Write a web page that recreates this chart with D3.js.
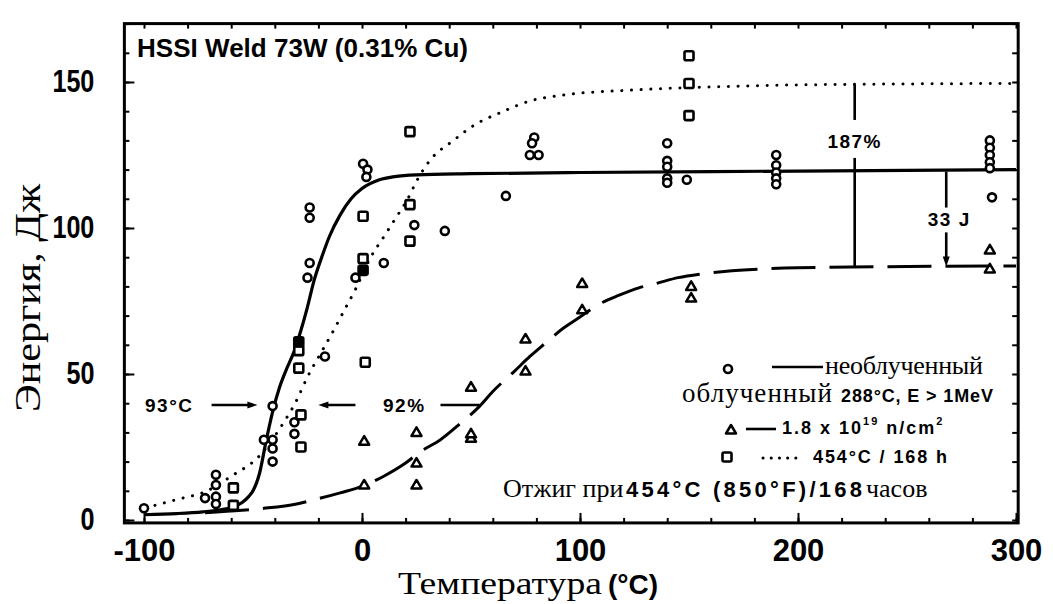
<!DOCTYPE html>
<html>
<head>
<meta charset="utf-8">
<script src="https://cdn.jsdelivr.net/npm/d3@7/dist/d3.min.js"></script>
<style>
body{margin:0;background:#fff}
svg{display:block}
</style>
</head>
<body>
<svg id="chart" width="1053" height="604"></svg>
<script>
// data: [temperature C, energy J]
const unirrPoints = [[-100,4],[-72,7.5],[-67,8],[-67,5.5],[-67,12],[-67,15.5],[-45,27.5],[-41,27.5],[-41,24.5],[-41,20],
  [-41,39],[-31,33.5],[-31,29.5],[-24,107],[-24,103.5],[-24,88],[-25,83],[-17,56],[-3,83],[0.5,122],[2.5,120],[2,117.5],
  [10,88],[24,101],[38,99],[66,111],[79,131],[78,129],[77,125],[81,125],[140,129],[140,123],[140,121],[140,117],[140,115.5],
  [149,116.5],[190,125],[190,121.5],[190,119],[190,117],[190,115],[288,130],[288,127.5],[288,125],[288,122.5],[288,120.5],[289,110.5]];
const irrPoints = [[1,27],[1,12],[25,30],[25,19.5],[25,12],[50,45.5],[50,28],[50,29.5],[75,62],[75,51],[101,81],[101,72],
  [151,80],[151,76],[288,92.5],[288,86]];
const annealPoints = [[-59,11],[-59,5],[-28,36],[-28,25],[-29,52],[-29,58],[0.5,89.5],[0.5,104],[22,133],[22,108],[22,95.5],
  [1.5,54],[150,159],[150,149.5],[150,138.5]];
const annealFilled = [[-29,61],[0.5,85.5]];

// fitted curves
const unirrCurve = [[-100,1.8],[-85,2.2],[-73,2.8],[-65,3.5],[-60,4.2],[-55,6],[-52,8],[-50,10],[-47,16],[-44,27],[-41,37],
  [-38,45],[-35,51],[-31,58],[-28,65],[-25,73],[-22,82],[-18,91],[-15,97],[-10,104.5],[-5,110],[0,113.5],[8,116.5],[15,117.6],
  [25,118.2],[50,118.6],[100,119],[200,119.5],[300,120]];
const irrCurve = [[-72,2.5],[-55,3.3],[-45,4],[-30,5.5],[-20,7.3],[-10,9.3],[0,11.5],[10,15],[20,19.5],[27,23.5],[36,27.5],
  [45,33],[54,39],[60,44],[70,51],[77,56],[84,60.5],[92,65.5],[100,69.5],[108,73.6],[118,77],[127,79.5],[135,81],[145,83],
  [155,84.2],[165,85],[175,85.6],[200,86.4],[250,86.8],[300,87]];
const annealCurve = [[-95,5],[-85,7],[-71,10],[-60,15],[-47,22],[-38,31],[-30,41],[-25,49],[-19,57],[-13,65],[-8,72],[-3,79],
  [4,90],[10,97],[16,104],[21,110],[25,116],[31,123],[42,130],[51,135],[65,140],[77,143.5],[92,145.5],[123,147.2],[160,148.3],
  [200,149],[300,149.5]];

const xMajor = [-100,0,100,200,300];
const xMinor = d3.range(-100,301,20);
const yMajor = [0,50,100,150];
const yMinor = d3.range(0,171,10);

const svg = d3.select("#chart");
const x = d3.scaleLinear().domain([-100,300]).range([144,1016]);
const y = d3.scaleLinear().domain([0,150]).range([520,82]);

const L = x(-109), R = x(301), T = y(170), B = y(-1);
const sansBold = "'Liberation Sans', Arial, sans-serif";
const serif = "'Liberation Serif', 'Times New Roman', serif";

// ticks
function styleAxis(g){
  g.select(".domain").remove();
  g.selectAll(".tick line").attr("stroke","#000").attr("stroke-width",2);
  g.selectAll(".tick text").attr("font-family",sansBold).attr("font-weight","bold").attr("font-size",31).attr("fill","#000");
}
svg.append("g").attr("transform",`translate(0,${B})`)
  .call(d3.axisBottom(x).tickValues(xMinor).tickSize(-5).tickFormat("")).call(styleAxis);
svg.append("g").attr("transform",`translate(0,${B})`)
  .call(d3.axisBottom(x).tickValues(xMajor).tickSize(-10).tickPadding(16).tickFormat(d=>String(d))).call(styleAxis);
svg.append("g").attr("transform",`translate(0,${T})`)
  .call(d3.axisTop(x).tickValues(xMinor).tickSize(-5).tickFormat("")).call(styleAxis);
svg.append("g").attr("transform",`translate(${L},0)`)
  .call(d3.axisLeft(y).tickValues(yMinor).tickSize(-5).tickFormat("")).call(styleAxis);
svg.append("g").attr("transform",`translate(${L},0)`)
  .call(d3.axisLeft(y).tickValues(yMajor).tickSize(-10).tickPadding(30).tickFormat(d=>d)).call(styleAxis)
  .selectAll(".tick text").attr("textLength",d=>String(d).length*14).attr("lengthAdjust","spacingAndGlyphs");
svg.append("g").attr("transform",`translate(${R},0)`)
  .call(d3.axisRight(y).tickValues(yMinor).tickSize(-6).tickFormat("")).call(styleAxis);

svg.append("rect").attr("x",L).attr("y",T).attr("width",R-L).attr("height",B-T)
  .attr("fill","none").attr("stroke","#000").attr("stroke-width",3);

// axis titles
svg.append("text").attr("x",398).attr("y",594).attr("font-family",serif).attr("font-size",31)
  .attr("textLength",204).attr("lengthAdjust","spacingAndGlyphs").attr("fill","#000").text("Температура");
svg.append("text").attr("x",608).attr("y",594).attr("font-family",sansBold).attr("font-weight","bold").attr("font-size",28)
  .attr("fill","#000").text("(°C)");
svg.append("text").attr("transform","translate(40,298) rotate(-90)").attr("text-anchor","middle")
  .attr("font-family",serif).attr("font-size",36).attr("textLength",228).attr("lengthAdjust","spacingAndGlyphs")
  .attr("fill","#000").text("Энергия, Дж");

// title
svg.append("text").attr("x",137).attr("y",57).attr("font-family",sansBold).attr("font-weight","bold")
  .attr("font-size",26).attr("textLength",331).attr("lengthAdjust","spacing").attr("fill","#000")
  .text("HSSI Weld 73W (0.31% Cu)");

// curves
const line = d3.line().x(d=>x(d[0])).y(d=>y(d[1])).curve(d3.curveMonotoneX);
svg.append("path").attr("d",line(annealCurve)).attr("fill","none").attr("stroke","#000")
  .attr("stroke-width",3).attr("stroke-linecap","round").attr("stroke-dasharray","0.1 9.6");
svg.append("path").attr("d",line(irrCurve)).attr("fill","none").attr("stroke","#000")
  .attr("stroke-width",3).attr("stroke-dasharray","44 14");
svg.append("path").attr("d",line(unirrCurve)).attr("fill","none").attr("stroke","#000").attr("stroke-width",3.2);

// markers
function circ(g,cx,cy){ g.append("circle").attr("cx",cx).attr("cy",cy).attr("r",4)
  .attr("fill","#fff").attr("stroke","#000").attr("stroke-width",2.6); }
function sq(g,cx,cy,filled){ g.append("rect").attr("x",cx-4.5).attr("y",cy-4.5).attr("width",9).attr("height",9).attr("rx",1.5)
  .attr("fill",filled?"#000":"#fff").attr("stroke","#000").attr("stroke-width",2.6); }
function tri(g,cx,cy){ g.append("path").attr("d",`M${cx},${cy-5}L${cx+5},${cy+3.5}L${cx-5},${cy+3.5}Z`)
  .attr("fill","#fff").attr("stroke","#000").attr("stroke-width",2.5).attr("stroke-linejoin","round"); }

const gm = svg.append("g");
unirrPoints.forEach(d=>circ(gm,x(d[0]),y(d[1])));
annealPoints.forEach(d=>sq(gm,x(d[0]),y(d[1]),false));
annealFilled.forEach(d=>sq(gm,x(d[0]),y(d[1]),true));
irrPoints.forEach(d=>tri(gm,x(d[0]),y(d[1])));

// annotations
function seg(x1,y1,x2,y2){ svg.append("line").attr("x1",x1).attr("y1",y1).attr("x2",x2).attr("y2",y2)
  .attr("stroke","#000").attr("stroke-width",2.6); }
function head(tx,ty,dir){
  let p;
  if(dir==="r") p=`M${tx},${ty}L${tx-10},${ty-3.5}L${tx-10},${ty+3.5}Z`;
  else if(dir==="l") p=`M${tx},${ty}L${tx+10},${ty-3.5}L${tx+10},${ty+3.5}Z`;
  else p=`M${tx},${ty}L${tx-3.5},${ty-10}L${tx+3.5},${ty-10}Z`;
  svg.append("path").attr("d",p).attr("fill","#000");
}
function label(tx,ty,s,anchor){ svg.append("text").attr("x",tx).attr("y",ty).attr("text-anchor",anchor||"start")
  .attr("font-family",sansBold).attr("font-weight","bold").attr("font-size",19).attr("letter-spacing",1.5)
  .attr("fill","#000").text(s); }

const eShift = 39.4;
label(145,412,"93°C");
seg(x(-69),y(eShift),x(-50),y(eShift)); head(x(-48),y(eShift),"r");
seg(x(-18),y(eShift),x(-3),y(eShift)); head(x(-20),y(eShift),"l");
label(383,412,"92%");
seg(x(36),y(eShift),x(54),y(eShift));

const tUp = 226;
seg(x(tUp),y(149),x(tUp),y(137));
label(x(tUp),148,"187%","middle");
seg(x(tUp),y(124),x(tUp),y(86.8));
const tJ = 268;
seg(x(tJ),y(119.3),x(tJ),y(107));
label(x(tJ)+3,226,"33 J","middle");
seg(x(tJ),y(98.5),x(tJ),y(90)); head(x(tJ),y(86.8),"d");

// legend
const lg = svg.append("g");
circ(lg,728,369);
lg.append("line").attr("x1",772).attr("x2",823).attr("y1",367).attr("y2",367).attr("stroke","#000").attr("stroke-width",2.6);
lg.append("text").attr("x",825).attr("y",374).attr("font-family",serif).attr("font-size",26).attr("textLength",158)
  .attr("lengthAdjust","spacing").attr("fill","#000").text("необлученный");

lg.append("text").attr("x",682).attr("y",402).attr("font-family",serif).attr("font-size",27)
  .attr("textLength",150).attr("lengthAdjust","spacing").attr("fill","#000").text("облученный");
lg.append("text").attr("x",841).attr("y",402).attr("font-family",sansBold).attr("font-weight","bold").attr("font-size",18)
  .attr("textLength",152).attr("lengthAdjust","spacing").attr("fill","#000").text("288°C, E > 1MeV");

tri(lg,731,430);
lg.append("line").attr("x1",746).attr("x2",776).attr("y1",429).attr("y2",429).attr("stroke","#000").attr("stroke-width",2.6);
const r3 = lg.append("text").attr("x",782).attr("y",434).attr("font-family",sansBold).attr("font-weight","bold")
  .attr("font-size",18).attr("letter-spacing",2).attr("fill","#000");
r3.append("tspan").text("1.8 x 10");
r3.append("tspan").attr("font-size",11).attr("dy",-9).text("19");
r3.append("tspan").attr("dy",9).text(" n/cm");
r3.append("tspan").attr("font-size",11).attr("dy",-9).text("2");

sq(lg,727,457,false);
lg.append("line").attr("x1",763).attr("x2",804).attr("y1",458).attr("y2",458).attr("stroke","#000").attr("stroke-width",3)
  .attr("stroke-linecap","round").attr("stroke-dasharray","0.1 8.1");
lg.append("text").attr("x",813).attr("y",463).attr("font-family",sansBold).attr("font-weight","bold").attr("font-size",18)
  .attr("textLength",134).attr("lengthAdjust","spacing").attr("fill","#000").text("454°C / 168 h");

lg.append("text").attr("x",503).attr("y",497).attr("font-family",serif).attr("font-size",26).attr("fill","#000").text("Отжиг при");
lg.append("text").attr("x",626).attr("y",497).attr("font-family",sansBold).attr("font-weight","bold").attr("font-size",22)
  .attr("textLength",236).attr("lengthAdjust","spacing").attr("fill","#000").text("454°C (850°F)/168");
lg.append("text").attr("x",866).attr("y",497).attr("font-family",serif).attr("font-size",26).attr("fill","#000").text("часов");
</script>
</body>
</html>
